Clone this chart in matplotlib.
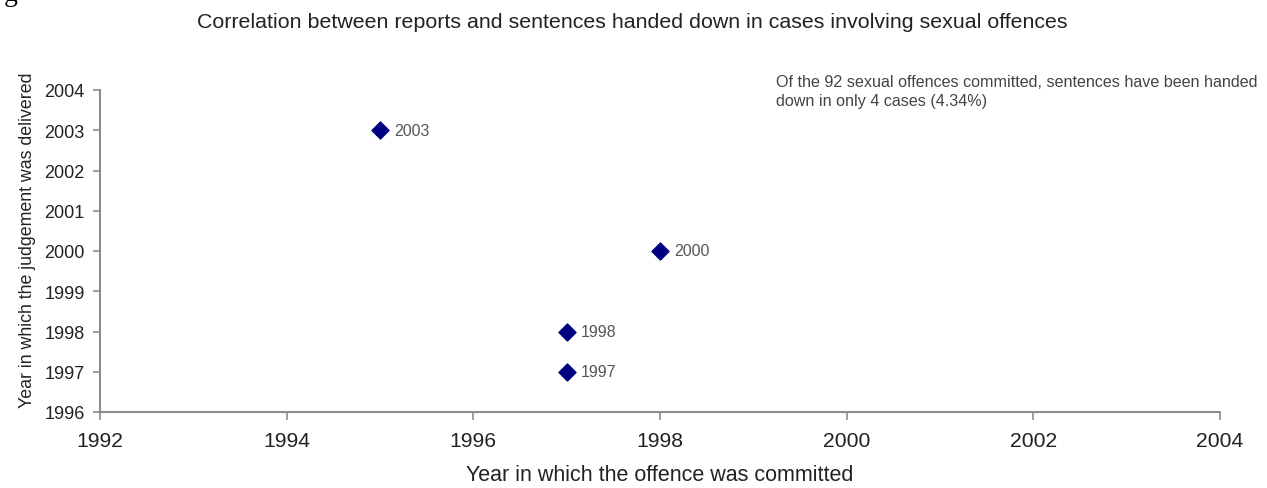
import matplotlib
matplotlib.use("Agg")
import matplotlib.pyplot as plt

plt.rcParams['font.family'] = ['Liberation Sans', 'DejaVu Sans']

# Year each offence was committed vs. year the judgement was delivered
offence_year = [1995, 1998, 1997, 1997]
judgement_year = [2003, 2000, 1998, 1997]
point_labels = ["2003", "2000", "1998", "1997"]

x_ticks = [1992, 1994, 1996, 1998, 2000, 2002, 2004]
y_ticks = [1996, 1997, 1998, 1999, 2000, 2001, 2002, 2003, 2004]

title = "Correlation between reports and sentences handed down in cases involving sexual offences"
note = ("Of the 92 sexual offences committed, sentences have been handed\n"
        "down in only 4 cases (4.34%)")

axis_grey = "#8c8c8c"
text_dark = "#222222"

fig = plt.figure(figsize=(12.67, 4.89), dpi=100)
ax = fig.add_axes([100 / 1267, 1 - 413 / 489, 1120 / 1267, 322 / 489])

ax.scatter(offence_year, judgement_year, marker="D", s=75, color="#000080",
           edgecolors="#000080", zorder=3, clip_on=False)
for x, y, lab in zip(offence_year, judgement_year, point_labels):
    ax.annotate(lab, (x, y), xytext=(10.5, 0), textcoords="offset points",
                va="center", ha="left", fontsize=11.5, color="#555555")

ax.set_xlim(x_ticks[0], x_ticks[-1])
ax.set_ylim(y_ticks[0], y_ticks[-1])
ax.set_xticks(x_ticks)
ax.set_yticks(y_ticks)

for side in ("top", "right"):
    ax.spines[side].set_visible(False)
for side in ("left", "bottom"):
    ax.spines[side].set_color(axis_grey)
    ax.spines[side].set_linewidth(1.5)

ax.tick_params(axis="x", direction="out", length=6, width=1.2, color=axis_grey,
               labelsize=15.2, labelcolor=text_dark, pad=8)
ax.tick_params(axis="y", direction="out", length=5, width=1.2, color=axis_grey,
               labelsize=13, labelcolor=text_dark, pad=6)

ax.set_xlabel("Year in which the offence was committed", fontsize=15.5,
              color=text_dark, labelpad=10)
ax.set_ylabel("Year in which the judgement was delivered", fontsize=12.8,
              color=text_dark)
ax.yaxis.set_label_coords((36 - 100) / 1120, 0.537)

fig.text(0.499, 1 - 23 / 489, title, ha="center", va="center", fontsize=15.4,
         color=text_dark)
fig.text(776 / 1267, 1 - 75 / 489, note, ha="left", va="top", fontsize=11.6,
         color="#444444", linespacing=1.3)

# stray glyph from the surrounding page, cut off at the top edge
fig.text(0.003, 1.012, "g", ha="left", va="center", fontsize=20,
         family="Liberation Serif", color="black")

fig.savefig("out.png", dpi=100)
